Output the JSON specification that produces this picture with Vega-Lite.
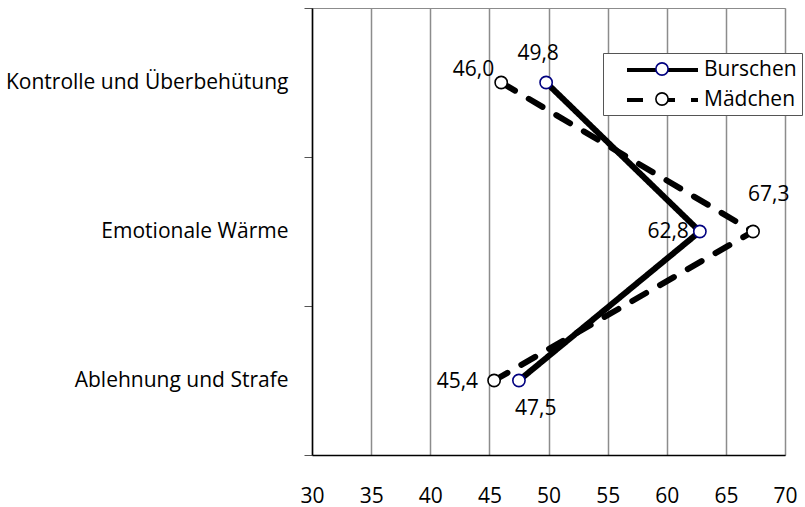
{
  "$schema": "https://vega.github.io/schema/vega-lite/v6.json",
  "width": 473,
  "height": 447,
  "autosize": {"type": "none"},
  "padding": {"left": 312, "top": 8, "right": 20, "bottom": 52},
  "background": "white",
  "config": {
    "font": "Open Sans",
    "view": {"stroke": "#8c8c8c", "strokeWidth": 1},
    "locale": {"number": {"decimal": ",", "thousands": ".", "grouping": [3], "currency": ["", " €"]}}
  },
  "data": {
    "values": [
      {"category": "Kontrolle und Überbehütung", "series": "Burschen", "value": 49.8},
      {"category": "Emotionale Wärme", "series": "Burschen", "value": 62.8},
      {"category": "Ablehnung und Strafe", "series": "Burschen", "value": 47.5},
      {"category": "Kontrolle und Überbehütung", "series": "Mädchen", "value": 46.0},
      {"category": "Emotionale Wärme", "series": "Mädchen", "value": 67.3},
      {"category": "Ablehnung und Strafe", "series": "Mädchen", "value": 45.4}
    ]
  },
  "encoding": {
    "y": {
      "field": "category",
      "type": "nominal",
      "sort": ["Kontrolle und Überbehütung", "Emotionale Wärme", "Ablehnung und Strafe"],
      "scale": {"type": "band", "paddingInner": 0, "paddingOuter": 0},
      "axis": {
        "title": null,
        "tickBand": "extent",
        "labelFontSize": 21,
        "labelColor": "black",
        "labelPadding": 16,
        "labelLimit": 0,
        "tickSize": 8,
        "tickColor": "#555",
        "tickWidth": 1,
        "domainColor": "black",
        "domainWidth": 1.5,
        "grid": false,
        "encode": {"ticks": {"update": {"x": {"value": 8}}}}
      }
    },
    "x": {
      "field": "value",
      "type": "quantitative",
      "scale": {"domain": [30, 70], "nice": false, "zero": false},
      "axis": {
        "title": null,
        "values": [30, 35, 40, 45, 50, 55, 60, 65, 70],
        "format": "d",
        "grid": true,
        "gridColor": "#8c8c8c",
        "gridWidth": 1.5,
        "ticks": false,
        "domainColor": "black",
        "domainWidth": 1.5,
        "labelFontSize": 21,
        "labelColor": "black",
        "labelPadding": 30,
        "labelFlush": false
      }
    }
  },
  "layer": [
    {
      "mark": {"type": "line", "color": "black", "strokeWidth": 6, "strokeCap": "round", "strokeJoin": "round"},
      "encoding": {
        "strokeDash": {
          "field": "series",
          "type": "nominal",
          "scale": {"range": [[1, 0], [16, 16]]},
          "legend": {
            "orient": "none",
            "legendX": 291,
            "legendY": 45,
            "title": null,
            "symbolType": "M0.7,0H7.8",
            "symbolSize": 400,
            "symbolStrokeWidth": 4,
            "symbolStrokeColor": "black",
            "symbolFillColor": "transparent",
            "labelFontSize": 21,
            "labelColor": "black",
            "labelOffset": 72,
            "labelLimit": 0,
            "padding": 5,
            "rowPadding": 8,
            "fillColor": "white",
            "strokeColor": "#555"
          }
        }
      }
    },
    {
      "mark": {"type": "point", "shape": "circle", "filled": true, "fill": "white", "size": 150, "strokeWidth": 1.6, "opacity": 1},
      "encoding": {
        "stroke": {
          "field": "series",
          "type": "nominal",
          "scale": {"domain": ["Burschen", "Mädchen"], "range": ["#000080", "#000000"]},
          "legend": {
            "orient": "none",
            "legendX": 343,
            "legendY": 54,
            "title": null,
            "symbolType": "circle",
            "symbolSize": 150,
            "symbolStrokeWidth": 1.6,
            "symbolFillColor": "white",
            "labelExpr": "''",
            "labelFontSize": 1,
            "labelOffset": 0,
            "padding": 0,
            "rowPadding": 10
          }
        }
      }
    },
    {
      "transform": [{"filter": "datum.series === 'Burschen' && datum.category === 'Kontrolle und Überbehütung'"}],
      "mark": {"type": "text", "fontSize": 21, "baseline": "middle", "align": "center", "dx": -8, "dy": -29, "color": "black"},
      "encoding": {"text": {"field": "value", "type": "quantitative", "format": ".1f"}}
    },
    {
      "transform": [{"filter": "datum.series === 'Burschen' && datum.category === 'Emotionale Wärme'"}],
      "mark": {"type": "text", "fontSize": 21, "baseline": "middle", "align": "right", "dx": -11, "dy": 0, "color": "black"},
      "encoding": {"text": {"field": "value", "type": "quantitative", "format": ".1f"}}
    },
    {
      "transform": [{"filter": "datum.series === 'Burschen' && datum.category === 'Ablehnung und Strafe'"}],
      "mark": {"type": "text", "fontSize": 21, "baseline": "middle", "align": "left", "dx": -4, "dy": 28, "color": "black"},
      "encoding": {"text": {"field": "value", "type": "quantitative", "format": ".1f"}}
    },
    {
      "transform": [{"filter": "datum.series === 'Mädchen' && datum.category === 'Kontrolle und Überbehütung'"}],
      "mark": {"type": "text", "fontSize": 21, "baseline": "middle", "align": "right", "dx": -7, "dy": -13, "color": "black"},
      "encoding": {"text": {"field": "value", "type": "quantitative", "format": ".1f"}}
    },
    {
      "transform": [{"filter": "datum.series === 'Mädchen' && datum.category === 'Emotionale Wärme'"}],
      "mark": {"type": "text", "fontSize": 21, "baseline": "middle", "align": "left", "dx": -5, "dy": -37, "color": "black"},
      "encoding": {"text": {"field": "value", "type": "quantitative", "format": ".1f"}}
    },
    {
      "transform": [{"filter": "datum.series === 'Mädchen' && datum.category === 'Ablehnung und Strafe'"}],
      "mark": {"type": "text", "fontSize": 21, "baseline": "middle", "align": "right", "dx": -16, "dy": 1, "color": "black"},
      "encoding": {"text": {"field": "value", "type": "quantitative", "format": ".1f"}}
    }
  ]
}
